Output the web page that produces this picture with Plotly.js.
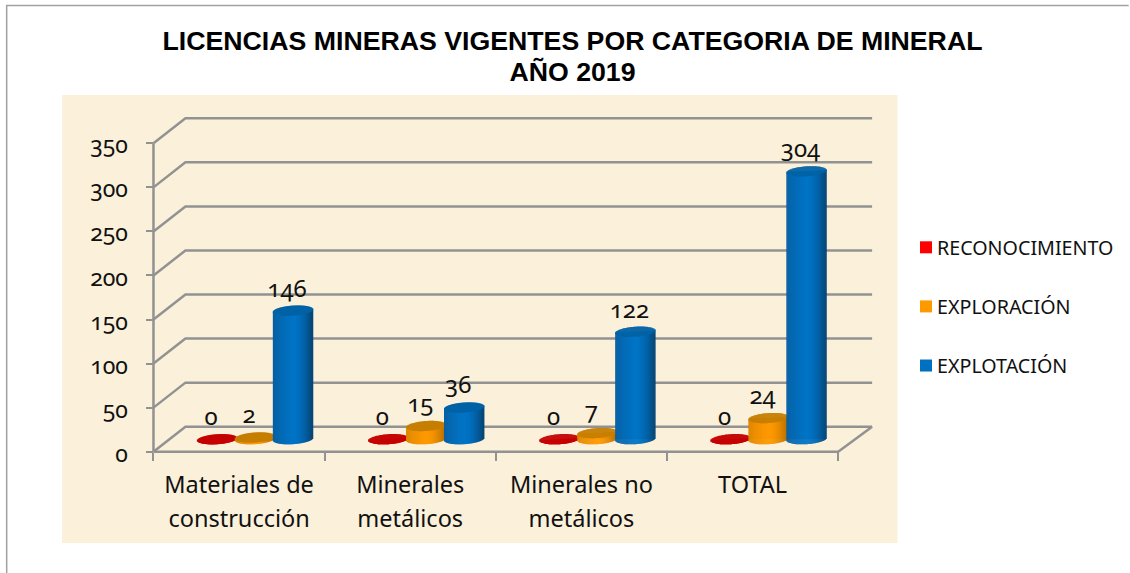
<!DOCTYPE html>
<html>
<head>
<meta charset="utf-8">
<script src="https://cdn.plot.ly/plotly-3.0.1.min.js"></script>
<style>
html,body{margin:0;padding:0;background:#fff}
#chart text{font-feature-settings:"onum" 1;font-variant-numeric:oldstyle-nums}
</style>
</head>
<body>
<div id="chart" style="width:1130px;height:573px"></div>
<script>
const categories = ["Materiales de<br>construcción","Minerales<br>metálicos","Minerales no<br>metálicos","TOTAL"];
const reconocimiento = [0,0,0,0];
const exploracion = [2,15,7,24];
const explotacion = [146,36,122,304];
const seriesNames = ["RECONOCIMIENTO","EXPLORACIÓN","EXPLOTACIÓN"];
const yTicks = [0,50,100,150,200,250,300,350];

// geometry of the projected 3-D box (style only)
const W=1130,H=573,L=140,R=880,T=110,B=460;
const x0Px=153.5,y0Px=451.7,catPx=171.4,unitPx=308.4/350;
const depthX=32/catPx, depthY=25/unitPx, endX=categories.length+34/catPx;
const FONT='"Noto Sans", sans-serif';
const GRID='#929292';
const pxX=p=>p/catPx, pxY=p=>p/unitPx;

function lerp(a,b,t){return a.map((v,i)=>Math.round(v+(b[i]-v)*t));}
function shade(st,u){
  const c = u<0 ? lerp(st.left,st.mid,Math.pow(1+u,0.6)) : lerp(st.mid,st.right,Math.pow(u,1.8));
  return `rgb(${c[0]},${c[1]},${c[2]})`;
}
const styles=[
 {base:'#FF0000',cap:'#C50000',left:[190,0,0],mid:[240,0,0],right:[140,0,0],off:63.75},
 {base:'#FF9900',cap:'#C67E00',left:[214,130,0],mid:[255,153,0],right:[170,104,0],off:101.75},
 {base:'#0070C0',cap:'#0062A6',left:[10,92,155],mid:[0,116,198],right:[6,66,112],off:139.75}
];
const RAD=20,SEMI=5,TILT=1.3;
const floorBase=depthY/2;
const traces=[];
[reconocimiento,exploracion,explotacion].forEach((vals,s)=>{
  const st=styles[s];
  const cx=vals.map((v,i)=>i+pxX(st.off));
  traces.push({type:'bar',name:seriesNames[s],x:cx,y:vals,base:vals.map(()=>floorBase),opacity:1,
    width:pxX(38),marker:{color:st.base,opacity:1,line:{width:0}},legendgroup:seriesNames[s],hoverinfo:'skip'});
  const bx=[],by=[],bb=[],bc=[],tx=[],ty=[],tb=[];
  vals.forEach((v,i)=>{
    for(let k=-RAD;k<RAD;k++){
      const u=(k+.5)/RAD, half=SEMI*Math.sqrt(1-u*u), tilt=TILT*u;
      const px=(i*catPx)+st.off+k+.5;
      const botY=floorBase+pxY(tilt-half), topC=floorBase+v+pxY(tilt);
      bx.push(pxX(px)); bb.push(botY); by.push(topC-botY); bc.push(shade(st,u));
      tx.push(pxX(px)); tb.push(topC-pxY(half)); ty.push(pxY(2*half));
    }
  });
  const w=pxX(1.5);
  traces.push({type:'bar',x:bx,y:by,base:bb,width:w,opacity:1,marker:{color:bc,opacity:1,line:{width:0}},showlegend:false,hoverinfo:'skip'});
  traces.push({type:'bar',x:tx,y:ty,base:tb,width:w,opacity:1,marker:{color:st.cap,opacity:1,line:{width:0}},showlegend:false,hoverinfo:'skip'});
});
// data labels
const lx=[],ly=[],lt=[];
[reconocimiento,exploracion,explotacion].forEach((vals,s)=>vals.forEach((v,i)=>{
  lx.push(i+pxX(styles[s].off-6)); ly.push(floorBase+v+pxY(20)); lt.push(String(v));
}));
traces.push({type:'scatter',mode:'text',x:lx,y:ly,text:lt,textposition:'middle center',
  textfont:{family:FONT,size:24,color:'#111'},showlegend:false,hoverinfo:'skip',cliponaxis:false});

const line=(d)=>({type:'path',xref:'x',yref:'y',layer:'between',path:d,line:{color:GRID,width:2.5}});
const shapes=[];
yTicks.forEach(v=>shapes.push(line(`M 0 ${v} L ${depthX} ${v+depthY} L ${endX} ${v+depthY}`)));
shapes.push(line(`M 0 0 L 0 ${yTicks[yTicks.length-1]}`));
shapes.push(line(`M 0 0 L ${categories.length} 0 L ${endX} ${depthY}`));
const pw=R-L,ph=B-T;
const paperX=p=>(p-L)/pw, paperY=p=>(B-p)/ph;
shapes.unshift({type:'rect',xref:'paper',yref:'paper',layer:'below',x0:paperX(62),x1:paperX(898.5),y0:paperY(543),y1:paperY(95),fillcolor:'#FBF0D9',line:{width:0}});
shapes.push({type:'path',xref:'paper',yref:'paper',layer:'above',
  path:`M ${paperX(6.5)} ${paperY(573)} L ${paperX(6.5)} ${paperY(5.5)} L ${paperX(1130)} ${paperY(5.5)}`,line:{color:'#a0a0a0',width:1.5}});

const layout={
  width:W,height:H,margin:{l:L,r:W-R,t:T,b:H-B,pad:0},
  paper_bgcolor:'#fff',plot_bgcolor:'rgba(0,0,0,0)',barmode:'overlay',showlegend:true,hovermode:false,
  title:{text:'LICENCIAS MINERAS VIGENTES POR CATEGORIA DE MINERAL<br>AÑO 2019',x:572.5/W,xref:'container',xanchor:'center',
    y:1-50/H,yref:'container',yanchor:'top',font:{family:'"Liberation Sans",Arial,sans-serif',size:26.7,weight:700,color:'#000'}},
  xaxis:{range:[(L-x0Px)/catPx,(R-x0Px)/catPx],anchor:'free',position:(B-y0Px)/ph,showgrid:false,zeroline:false,showline:false,
    tickmode:'array',tickvals:categories.map((c,i)=>i+.5),ticktext:categories,ticks:'',tickangle:0,ticklabelstandoff:17,
    tickfont:{family:FONT,size:23.5,color:'#111'},
    minor:{tickmode:'array',tickvals:[0,1,2,3,4],ticks:'outside',ticklen:8,tickwidth:2,tickcolor:GRID,showgrid:false}},
  yaxis:{range:[(y0Px-B)/unitPx,(y0Px-T)/unitPx],anchor:'free',position:(x0Px-L)/pw,showgrid:false,zeroline:false,showline:false,
    tickmode:'array',tickvals:yTicks,ticks:'outside',ticklen:7,tickwidth:2,tickcolor:GRID,ticklabelstandoff:14,ticklabelshift:2,
    tickfont:{family:FONT,size:23,color:'#111'}},
  legend:{x:paperX(897),xanchor:'left',y:paperY(228),yanchor:'top',traceorder:'grouped',tracegroupgap:30.5,
    font:{family:FONT,size:19.7,color:'#111'},bgcolor:'rgba(0,0,0,0)'},
  shapes
};
Plotly.newPlot('chart',traces,layout,{displayModeBar:false,staticPlot:true}).then(gd=>{
  // the reference's line pitch differs a little from Plotly's fixed 1.3em
  gd.querySelectorAll('.gtitle tspan.line').forEach((t,i)=>{if(i>0)t.setAttribute('dy','31px');});
  gd.querySelectorAll('.xtick text').forEach(txt=>{
    txt.querySelectorAll('tspan.line').forEach((t,i)=>{if(i>0)t.setAttribute('dy','34px');});
  });
  // legend swatch sits closer to its label in the reference
  gd.querySelectorAll('.legend .legendpoints path').forEach(p=>{
    p.setAttribute('transform','translate(29,0)');
    p.style.transform='translate(29px,0)';
  });
});
</script>
</body>
</html>
